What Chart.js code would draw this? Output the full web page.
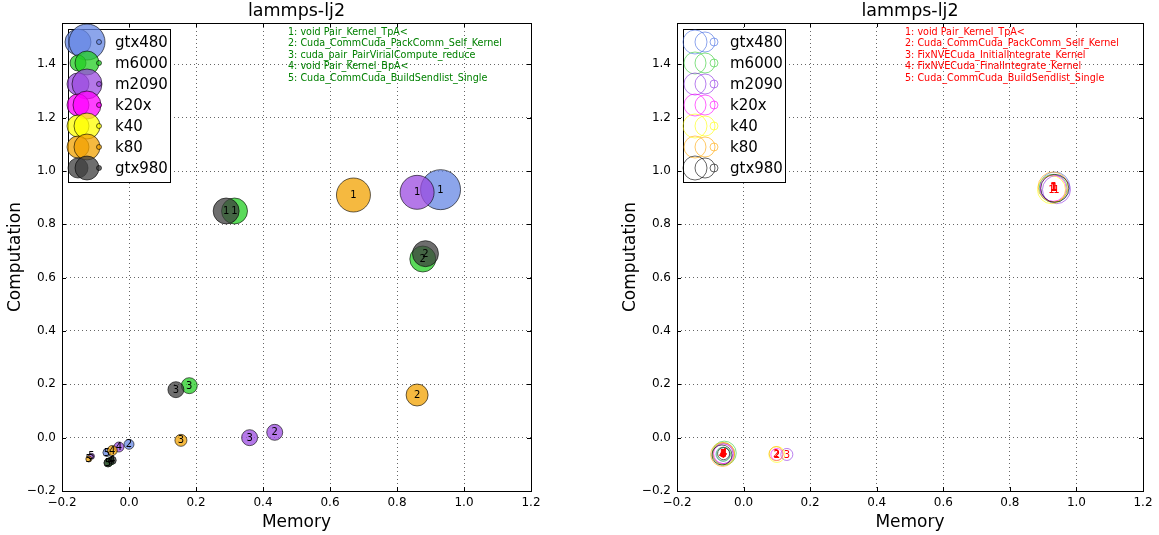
<!DOCTYPE html>
<html><head><meta charset="utf-8">
<script src="https://cdn.jsdelivr.net/npm/chart.js@4.4.1/dist/chart.umd.min.js"></script>
<style>
body{margin:0;background:#fff;}
#wrap{position:relative;width:1159px;height:535px;}
canvas{position:absolute;top:0;}
</style></head><body>
<div id="wrap">
<canvas id="c1" width="580" height="535" style="left:0;width:580px;height:535px"></canvas>
<canvas id="c2" width="579" height="535" style="left:580px;width:579px;height:535px"></canvas>
</div>
<script>
// ---------- data ----------
const gpuNames = ['gtx480','m6000','m2090','k20x','k40','k80','gtx980'];
const gpuColors = ['102,135,228','35,206,35','155,75,224','255,0,255','255,255,0','242,162,0','62,62,62'];
const edgeColors = ['65,105,225','50,205,50','138,43,226','255,0,255','255,255,0','255,165,0','0,0,0'];
const xTicks = [-0.2,0.0,0.2,0.4,0.6,0.8,1.0,1.2];
const yTicks = [-0.2,0.0,0.2,0.4,0.6,0.8,1.0,1.2,1.4];
const plotTitle = 'lammps-lj2';
const xTitle = 'Memory';
const yTitle = 'Computation';
const leftKernels = ['1: void Pair_Kernel_TpA<','2: Cuda_CommCuda_PackComm_Self_Kernel','3: cuda_pair_PairVirialCompute_reduce','4: void Pair_Kernel_BpA<','5: Cuda_CommCuda_BuildSendlist_Single'];
const rightKernels = ['1: void Pair_Kernel_TpA<','2: Cuda_CommCuda_PackComm_Self_Kernel','3: FixNVECuda_InitialIntegrate_Kernel','4: FixNVECuda_FinalIntegrate_Kernel','5: Cuda_CommCuda_BuildSendlist_Single'];

// left plot: [memory, computation, bubble size, kernel id]
const L_gtx480 = [[0.93,0.93,20,'1'],[0.0,-0.025,5,'2'],[-0.066,-0.056,4,'5']];
const L_m6000  = [[0.315,0.85,13,'1'],[0.877,0.67,13,'2'],[0.18,0.195,8,'3'],[-0.055,-0.088,4,'4'],[-0.062,-0.094,4,'5']];
const L_m2090  = [[0.86,0.92,17,'1'],[0.435,0.02,8,'2'],[0.36,0.0,8,'3'],[-0.03,-0.035,5,'4'],[-0.112,-0.07,3,'5']];
const L_k20x   = [];
const L_k40    = [];
const L_k80    = [[0.67,0.91,17,'1'],[0.86,0.16,11,'2'],[0.155,-0.01,6,'3'],[-0.05,-0.048,5,'4'],[-0.12,-0.08,3,'5']];
const L_gtx980 = [[0.29,0.85,13,'1'],[0.885,0.69,13,'2'],[0.14,0.18,8,'3'],[-0.05,-0.085,4,'4'],[-0.063,-0.095,4,'5']];
const leftSeries = [L_gtx480,L_m6000,L_m2090,L_k20x,L_k40,L_k80,L_gtx980];

// right plot
const R_gtx480 = [[0.935,0.94,15,'1'],[-0.06,-0.06,11,'4'],[-0.062,-0.062,7,'5']];
const R_m6000  = [[0.93,0.935,14,'1'],[-0.058,-0.058,12,'4'],[-0.06,-0.062,7,'5']];
const R_m2090  = [[0.94,0.93,14,'1'],[0.13,-0.063,6,'3'],[-0.062,-0.06,10,'4']];
const R_k20x   = [[0.93,0.935,13,'1'],[0.10,-0.063,6,'2'],[-0.06,-0.06,10,'4']];
const R_k40    = [[0.925,0.93,14,'1'],[0.10,-0.063,8,'2'],[-0.06,-0.06,11,'4']];
const R_k80    = [[0.93,0.94,15,'1'],[0.098,-0.06,7,'2'],[-0.063,-0.063,12,'4']];
const R_gtx980 = [[0.935,0.935,14,'1'],[-0.065,-0.065,10,'4'],[-0.06,-0.06,6,'5']];
const rightSeries = [R_gtx480,R_m6000,R_m2090,R_k20x,R_k40,R_k80,R_gtx980];

// legend marker sizes (two bubbles + small)
const legendSizesL = [[13,18],[8,12],[11,15],[11,14],[11,13],[11,13],[10,12]];
const legendSizesR = [[12,10],[11,10],[11,10],[11,10],[12,10],[11,10],[12,10]];

// ---------- helpers ----------
const FONT = '"DejaVu Sans", "Liberation Sans", sans-serif';
function fmt(v){ const s = Math.abs(v).toFixed(1); return v < -1e-9 ? '\u2212'+s : s; }

function makeDatasets(series, filled){
  return series.map((pts,i)=>({
    label: gpuNames[i],
    order: 10 - i,
    data: pts.map(p=>({x:p[0], y:p[1], r:p[2], k:p[3]})),
    backgroundColor: filled ? 'rgba('+gpuColors[i]+',0.75)' : 'rgba(0,0,0,0)',
    borderColor: filled ? 'rgba(0,0,0,0.6)' : 'rgba('+edgeColors[i]+',0.6)',
    borderWidth: 1
  }));
}

function framePlugin(opts){
  return {
    id:'frame'+opts.id,
    afterDatasetsDraw(chart){
      const ctx = chart.ctx;
      ctx.save();
      ctx.font = '10px '+FONT;
      ctx.textAlign='center'; ctx.textBaseline='middle';
      ctx.fillStyle = opts.labelColor;
      const metas = chart.getSortedVisibleDatasetMetas();
      metas.forEach(meta=>{
        meta.data.forEach((el,j)=>{
          const k = chart.data.datasets[meta.index].data[j].k;
          ctx.fillText(k, el.x, el.y+0.5);
        });
      });
      ctx.restore();
    },
    afterDraw(chart){
      const ctx = chart.ctx, a = chart.chartArea;
      const xs = chart.scales.x, ys = chart.scales.y;
      ctx.save();
      ctx.strokeStyle='#000'; ctx.lineWidth=1;
      ctx.beginPath();
      xTicks.forEach(v=>{ const px=Math.round(xs.getPixelForValue(v))+0.5;
        ctx.moveTo(px,a.bottom); ctx.lineTo(px,a.bottom-4);
        ctx.moveTo(px,a.top); ctx.lineTo(px,a.top+4); });
      yTicks.forEach(v=>{ const py=Math.round(ys.getPixelForValue(v))+0.5;
        ctx.moveTo(a.left,py); ctx.lineTo(a.left+4,py);
        ctx.moveTo(a.right,py); ctx.lineTo(a.right-4,py); });
      ctx.stroke();
      ctx.strokeRect(Math.round(a.left)+0.5, Math.round(a.top)+0.5, Math.round(a.right-a.left), Math.round(a.bottom-a.top));
      ctx.fillStyle='#000';
      ctx.font='17.5px '+FONT; ctx.textAlign='center'; ctx.textBaseline='middle';
      ctx.fillText(plotTitle,(a.left+a.right)/2, 11);
      ctx.font='9.6px '+FONT; ctx.textAlign='left'; ctx.textBaseline='middle';
      ctx.fillStyle=opts.noteColor;
      opts.notes.forEach((t,i)=>ctx.fillText(t, opts.noteX, 32+i*11.6));
      const lg = opts.legend;
      ctx.fillStyle='#fff';
      ctx.fillRect(lg.x0,lg.y0,lg.x1-lg.x0,lg.y1-lg.y0);
      ctx.strokeStyle='#000'; ctx.lineWidth=1;
      ctx.strokeRect(lg.x0+0.5,lg.y0+0.5,lg.x1-lg.x0,lg.y1-lg.y0);
      gpuNames.forEach((n,i)=>{
        const cy = lg.yFirst + i*21;
        const sz = opts.legendSizes[i];
        const pts = [[lg.m1,sz[0]],[lg.m2,sz[1]],[lg.m3,lg.r3]];
        pts.forEach(p=>{
          ctx.beginPath(); ctx.arc(p[0],cy,p[1],0,Math.PI*2);
          if(opts.filled){
            ctx.fillStyle='rgba('+gpuColors[i]+',0.75)'; ctx.fill();
            ctx.strokeStyle='rgba(0,0,0,0.6)'; ctx.stroke();
          } else {
            ctx.strokeStyle='rgba('+edgeColors[i]+',0.6)'; ctx.stroke();
          }
        });
        ctx.fillStyle='#000'; ctx.font='15px '+FONT;
        ctx.textAlign='left'; ctx.textBaseline='middle';
        ctx.fillText(n, lg.tx, cy+1);
      });
      ctx.restore();
    }
  };
}

function makeChart(id, series, filled, padL, padR, plugOpts){
  return new Chart(document.getElementById(id), {
    type:'bubble',
    data:{ datasets: makeDatasets(series, filled) },
    options:{
      responsive:false, animation:false, events:[],
      layout:{ padding:{ left:padL, right:padR, top:23, bottom:0 } },
      plugins:{ legend:{display:false}, title:{display:false}, tooltip:{enabled:false} },
      scales:{
        x:{ type:'linear', min:-0.2, max:1.2,
            afterBuildTicks(s){ s.ticks = xTicks.map(v=>({value:v})); },
            afterFit(s){ s.height = 44; },
            ticks:{ callback:v=>fmt(v), font:{family:FONT,size:12}, color:'#000', padding:5, maxRotation:0 },
            grid:{ color:'rgba(0,0,0,0.6)', lineWidth:1, drawTicks:false },
            border:{ display:false, dash:[1,3] },
            title:{ display:true, text:xTitle, font:{family:FONT,size:17}, color:'#000', padding:{top:0,bottom:2} } },
        y:{ type:'linear', min:-0.2, max:1.555,
            afterBuildTicks(s){ s.ticks = yTicks.map(v=>({value:v})); },
            afterFit(s){ s.width = 62; },
            ticks:{ callback:v=>fmt(v), font:{family:FONT,size:12}, color:'#000', padding:6 },
            grid:{ color:'rgba(0,0,0,0.6)', lineWidth:1, drawTicks:false },
            border:{ display:false, dash:[1,3] },
            title:{ display:true, text:yTitle, font:{family:FONT,size:17}, color:'#000', padding:{top:5,bottom:0} } }
      }
    },
    plugins:[framePlugin(plugOpts)]
  });
}

makeChart('c1', leftSeries, true, 0, 49, {
  id:'L', labelColor:'#000', noteColor:'#008000', notes:leftKernels, noteX:288, filled:true,
  legendSizes:legendSizesL,
  legend:{x0:68,y0:29,x1:170,y1:182,yFirst:42,m1:78,m2:87,m3:99,r3:2.5,tx:115}
});
makeChart('c2', rightSeries, false, 35, 15, {
  id:'R', labelColor:'#ff0000', noteColor:'#ff0000', notes:rightKernels, noteX:325, filled:false,
  legendSizes:legendSizesR,
  legend:{x0:103,y0:29,x1:205,y1:182,yFirst:42,m1:115,m2:125,m3:134,r3:4,tx:150}
});
</script>
</body></html>
